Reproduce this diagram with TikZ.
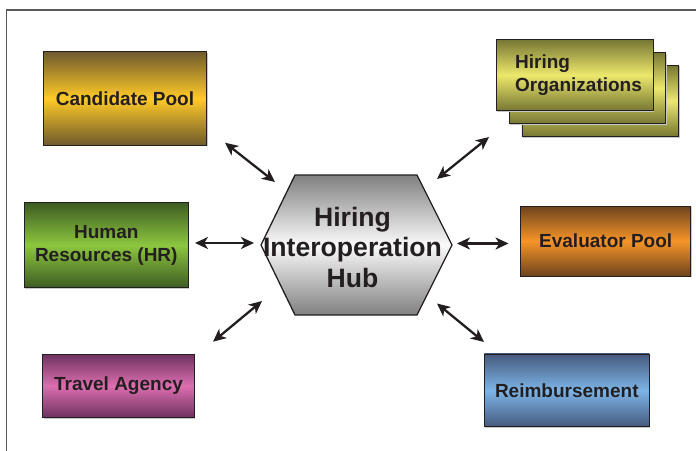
\documentclass[tikz,border=0pt]{standalone}
\usepackage{fontspec}
\setmainfont{Liberation Sans}
\usetikzlibrary{arrows.meta,shadows}
\definecolor{txt}{HTML}{231F20}
\definecolor{candD}{RGB}{110,90,45}\definecolor{candL}{RGB}{255,202,40}
\definecolor{hrD}{RGB}{62,92,35}\definecolor{hrL}{RGB}{140,198,63}
\definecolor{orgD}{RGB}{118,118,52}\definecolor{orgL}{RGB}{236,232,108}
\definecolor{evD}{RGB}{108,68,30}\definecolor{evL}{RGB}{247,148,40}
\definecolor{trD}{RGB}{110,50,95}\definecolor{trL}{RGB}{220,110,175}
\definecolor{reD}{RGB}{70,90,125}\definecolor{reL}{RGB}{125,180,230}
\definecolor{hubD}{RGB}{128,128,128}\definecolor{hubL}{RGB}{250,250,250}
\tikzset{
  box/.style={draw=txt, line width=0.8pt, rectangle, inner sep=0pt,
    text=txt, align=center,
    font=\fontsize{19}{23.5}\selectfont\bfseries,
    drop shadow={shadow xshift=1pt, shadow yshift=-1.3pt, fill=black!22, opacity=1}},
  shade2/.style n args={2}{top color=#1, bottom color=#1, middle color=#2},
  link/.style={line width=2.3pt, draw=txt,
    {Stealth[length=13pt,width=12pt,inset=3.8pt]}-{Stealth[length=13pt,width=12pt,inset=3.8pt]}},
  frame/.style={draw=black!65, line width=1.6pt}
}
\begin{document}
\begin{tikzpicture}[x=1pt,y=-1pt]
\useasboundingbox (0,0) rectangle (696,450);
% frame
\coordinate (fb) at (6.5,452);
\coordinate (fc) at (6.5,10);
\coordinate (fr) at (698,10);
\draw[frame] (fb) -- (fc) -- (fr);

% boxes
\node[box, shade2={candD}{candL}, minimum width=163.4pt, minimum height=93.3pt] (cand) at (125,98.4) {Candidate Pool};
\node[box, shade2={hrD}{hrL}, minimum width=164pt, minimum height=85pt] (hr) at (106.3,245.2) {Human\\Resources (HR)};
\node[box, shade2={trD}{trL}, minimum width=151.6pt, minimum height=63.3pt] (travel) at (118.5,385.7) {Travel Agency};
\node[box, shade2={evD}{evL}, minimum width=170pt, minimum height=70pt] (eval) at (605.7,241) {Evaluator Pool};
\node[box, shade2={reD}{reL}, minimum width=165pt, minimum height=72.7pt] (reimb) at (566.8,390.3) {Reimbursement};
\node[box, shade2={orgD}{orgL}, minimum width=156.7pt, minimum height=71.4pt] (org3) at (600.3,100.8) {};
\node[box, shade2={orgD}{orgL}, minimum width=156.7pt, minimum height=71.4pt] (org2) at (587.5,88) {};
\node[box, shade2={orgD}{orgL}, minimum width=156.7pt, minimum height=71.4pt] (org1) at (574.8,75) {};
\node[anchor=west, align=left, text=txt, inner sep=0pt, font=\fontsize{19}{23.5}\selectfont\bfseries] (orgtxt) at (515,75) {Hiring\\Organizations};

% hub hexagon
\coordinate (h1) at (261,245);
\coordinate (h2) at (295,175);
\coordinate (h3) at (417,175);
\coordinate (h4) at (452,245);
\coordinate (h5) at (417,315);
\coordinate (h6) at (295,315);
\draw[draw=txt, line width=1.3pt, shade2={hubD}{hubL}, line join=miter]
  (h1) -- (h2) -- (h3) -- (h4) -- (h5) -- (h6) -- cycle;
\node[text=txt, align=center, inner sep=0pt, font=\fontsize{26.6}{30.5}\selectfont\bfseries] (hub) at (352.5,247) {Hiring\\Interoperation\\Hub};

% connector ends
\coordinate (c1) at (225,142.7); \coordinate (c2) at (275,182);
\coordinate (r1) at (195,243); \coordinate (r2) at (254,243);
\coordinate (t1) at (213,341.7); \coordinate (t2) at (262,301);
\coordinate (o1) at (437,179); \coordinate (o2) at (489,137);
\coordinate (e1) at (457,243.5); \coordinate (e2) at (508.5,243.5);
\coordinate (m1) at (437,303.5); \coordinate (m2) at (484,342);
\draw[link] (c1) -- (c2);
\draw[link] (r1) -- (r2);
\draw[link] (t1) -- (t2);
\draw[link] (o1) -- (o2);
\draw[link] (e1) -- (e2);
\draw[link] (m1) -- (m2);
\end{tikzpicture}
\end{document}
